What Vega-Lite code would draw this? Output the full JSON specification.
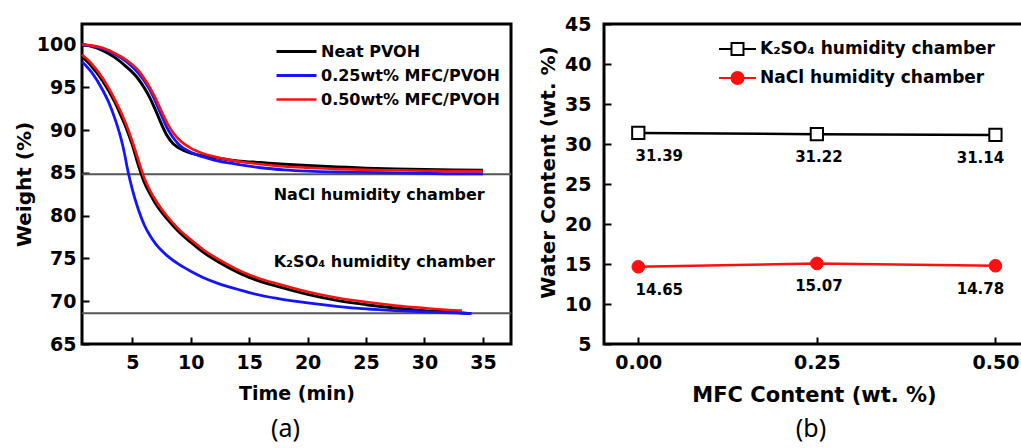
{
  "$schema": "https://vega.github.io/schema/vega-lite/v6.json",
  "padding": {"left": 12, "top": 13, "right": 0, "bottom": 0},
  "background": "white",
  "bounds": "flush",
  "spacing": 93,
  "config": {
    "view": {"stroke": "black", "strokeWidth": 3},
    "font": "DejaVu Sans",
    "axis": {
      "labelFont": "DejaVu Sans", "labelFontWeight": "bold", "labelColor": "black",
      "titleFont": "DejaVu Sans", "titleFontWeight": "bold", "titleColor": "black",
      "domain": false, "grid": false, "tickColor": "black", "tickWidth": 2
    },
    "legend": {"labelFont": "DejaVu Sans", "labelFontWeight": "bold", "labelColor": "black", "padding": 0, "labelLimit": 400}
  },
  "datasets": {
    "curves": [
      {"t":0.7,"w":100.0,"s":"Neat PVOH","c":"NaCl"},{"t":1.5,"w":99.8,"s":"Neat PVOH","c":"NaCl"},{"t":2.5,"w":99.3,"s":"Neat PVOH","c":"NaCl"},{"t":3.5,"w":98.5,"s":"Neat PVOH","c":"NaCl"},{"t":4.5,"w":97.4,"s":"Neat PVOH","c":"NaCl"},{"t":5.5,"w":96.0,"s":"Neat PVOH","c":"NaCl"},{"t":6.0,"w":95.0,"s":"Neat PVOH","c":"NaCl"},{"t":6.5,"w":93.8,"s":"Neat PVOH","c":"NaCl"},{"t":7.0,"w":92.3,"s":"Neat PVOH","c":"NaCl"},{"t":7.5,"w":90.7,"s":"Neat PVOH","c":"NaCl"},{"t":8.0,"w":89.3,"s":"Neat PVOH","c":"NaCl"},{"t":8.5,"w":88.4,"s":"Neat PVOH","c":"NaCl"},{"t":9.0,"w":87.9,"s":"Neat PVOH","c":"NaCl"},{"t":10,"w":87.3,"s":"Neat PVOH","c":"NaCl"},{"t":11,"w":87.0,"s":"Neat PVOH","c":"NaCl"},{"t":12,"w":86.8,"s":"Neat PVOH","c":"NaCl"},{"t":14,"w":86.4,"s":"Neat PVOH","c":"NaCl"},{"t":16,"w":86.2,"s":"Neat PVOH","c":"NaCl"},{"t":18,"w":86.0,"s":"Neat PVOH","c":"NaCl"},{"t":20,"w":85.85,"s":"Neat PVOH","c":"NaCl"},{"t":22.5,"w":85.7,"s":"Neat PVOH","c":"NaCl"},{"t":25,"w":85.55,"s":"Neat PVOH","c":"NaCl"},{"t":27.5,"w":85.45,"s":"Neat PVOH","c":"NaCl"},{"t":30,"w":85.4,"s":"Neat PVOH","c":"NaCl"},{"t":32.5,"w":85.35,"s":"Neat PVOH","c":"NaCl"},{"t":35,"w":85.3,"s":"Neat PVOH","c":"NaCl"},
      {"t":0.7,"w":98.6,"s":"Neat PVOH","c":"K2SO4"},{"t":1.5,"w":97.5,"s":"Neat PVOH","c":"K2SO4"},{"t":2.5,"w":95.7,"s":"Neat PVOH","c":"K2SO4"},{"t":3.5,"w":93.3,"s":"Neat PVOH","c":"K2SO4"},{"t":4.0,"w":91.8,"s":"Neat PVOH","c":"K2SO4"},{"t":4.5,"w":90.2,"s":"Neat PVOH","c":"K2SO4"},{"t":5.0,"w":88.3,"s":"Neat PVOH","c":"K2SO4"},{"t":5.5,"w":86.0,"s":"Neat PVOH","c":"K2SO4"},{"t":6.0,"w":84.0,"s":"Neat PVOH","c":"K2SO4"},{"t":6.5,"w":82.6,"s":"Neat PVOH","c":"K2SO4"},{"t":7.0,"w":81.4,"s":"Neat PVOH","c":"K2SO4"},{"t":8.0,"w":79.6,"s":"Neat PVOH","c":"K2SO4"},{"t":9.0,"w":78.1,"s":"Neat PVOH","c":"K2SO4"},{"t":10,"w":76.9,"s":"Neat PVOH","c":"K2SO4"},{"t":11,"w":75.8,"s":"Neat PVOH","c":"K2SO4"},{"t":12.5,"w":74.5,"s":"Neat PVOH","c":"K2SO4"},{"t":14,"w":73.4,"s":"Neat PVOH","c":"K2SO4"},{"t":15,"w":72.8,"s":"Neat PVOH","c":"K2SO4"},{"t":17.5,"w":71.7,"s":"Neat PVOH","c":"K2SO4"},{"t":20,"w":70.8,"s":"Neat PVOH","c":"K2SO4"},{"t":22.5,"w":70.1,"s":"Neat PVOH","c":"K2SO4"},{"t":25,"w":69.6,"s":"Neat PVOH","c":"K2SO4"},{"t":27.5,"w":69.2,"s":"Neat PVOH","c":"K2SO4"},{"t":30,"w":68.9,"s":"Neat PVOH","c":"K2SO4"},{"t":32.5,"w":68.7,"s":"Neat PVOH","c":"K2SO4"},{"t":34,"w":68.55,"s":"Neat PVOH","c":"K2SO4"},
      {"t":0.7,"w":100.0,"s":"0.25wt% MFC/PVOH","c":"NaCl"},{"t":1.5,"w":99.85,"s":"0.25wt% MFC/PVOH","c":"NaCl"},{"t":2.5,"w":99.5,"s":"0.25wt% MFC/PVOH","c":"NaCl"},{"t":3.5,"w":98.9,"s":"0.25wt% MFC/PVOH","c":"NaCl"},{"t":4.5,"w":98.0,"s":"0.25wt% MFC/PVOH","c":"NaCl"},{"t":5.5,"w":96.7,"s":"0.25wt% MFC/PVOH","c":"NaCl"},{"t":6.0,"w":95.8,"s":"0.25wt% MFC/PVOH","c":"NaCl"},{"t":6.5,"w":94.7,"s":"0.25wt% MFC/PVOH","c":"NaCl"},{"t":7.0,"w":93.3,"s":"0.25wt% MFC/PVOH","c":"NaCl"},{"t":7.5,"w":91.7,"s":"0.25wt% MFC/PVOH","c":"NaCl"},{"t":8.0,"w":90.2,"s":"0.25wt% MFC/PVOH","c":"NaCl"},{"t":8.5,"w":89.1,"s":"0.25wt% MFC/PVOH","c":"NaCl"},{"t":9.0,"w":88.3,"s":"0.25wt% MFC/PVOH","c":"NaCl"},{"t":10,"w":87.4,"s":"0.25wt% MFC/PVOH","c":"NaCl"},{"t":11,"w":86.9,"s":"0.25wt% MFC/PVOH","c":"NaCl"},{"t":12,"w":86.5,"s":"0.25wt% MFC/PVOH","c":"NaCl"},{"t":14,"w":86.0,"s":"0.25wt% MFC/PVOH","c":"NaCl"},{"t":16,"w":85.6,"s":"0.25wt% MFC/PVOH","c":"NaCl"},{"t":18,"w":85.35,"s":"0.25wt% MFC/PVOH","c":"NaCl"},{"t":20,"w":85.2,"s":"0.25wt% MFC/PVOH","c":"NaCl"},{"t":22.5,"w":85.1,"s":"0.25wt% MFC/PVOH","c":"NaCl"},{"t":25,"w":85.05,"s":"0.25wt% MFC/PVOH","c":"NaCl"},{"t":27.5,"w":85.0,"s":"0.25wt% MFC/PVOH","c":"NaCl"},{"t":30,"w":84.95,"s":"0.25wt% MFC/PVOH","c":"NaCl"},{"t":32.5,"w":84.9,"s":"0.25wt% MFC/PVOH","c":"NaCl"},{"t":35,"w":84.9,"s":"0.25wt% MFC/PVOH","c":"NaCl"},
      {"t":0.7,"w":98.0,"s":"0.25wt% MFC/PVOH","c":"K2SO4"},{"t":1.5,"w":96.8,"s":"0.25wt% MFC/PVOH","c":"K2SO4"},{"t":2.5,"w":94.6,"s":"0.25wt% MFC/PVOH","c":"K2SO4"},{"t":3.0,"w":93.2,"s":"0.25wt% MFC/PVOH","c":"K2SO4"},{"t":3.5,"w":91.4,"s":"0.25wt% MFC/PVOH","c":"K2SO4"},{"t":4.0,"w":89.2,"s":"0.25wt% MFC/PVOH","c":"K2SO4"},{"t":4.3,"w":87.5,"s":"0.25wt% MFC/PVOH","c":"K2SO4"},{"t":4.6,"w":85.4,"s":"0.25wt% MFC/PVOH","c":"K2SO4"},{"t":5.0,"w":83.1,"s":"0.25wt% MFC/PVOH","c":"K2SO4"},{"t":5.5,"w":80.8,"s":"0.25wt% MFC/PVOH","c":"K2SO4"},{"t":6.0,"w":79.0,"s":"0.25wt% MFC/PVOH","c":"K2SO4"},{"t":6.5,"w":77.7,"s":"0.25wt% MFC/PVOH","c":"K2SO4"},{"t":7.0,"w":76.7,"s":"0.25wt% MFC/PVOH","c":"K2SO4"},{"t":8.0,"w":75.3,"s":"0.25wt% MFC/PVOH","c":"K2SO4"},{"t":9.0,"w":74.3,"s":"0.25wt% MFC/PVOH","c":"K2SO4"},{"t":10,"w":73.5,"s":"0.25wt% MFC/PVOH","c":"K2SO4"},{"t":11,"w":72.8,"s":"0.25wt% MFC/PVOH","c":"K2SO4"},{"t":12.5,"w":72.0,"s":"0.25wt% MFC/PVOH","c":"K2SO4"},{"t":14,"w":71.4,"s":"0.25wt% MFC/PVOH","c":"K2SO4"},{"t":15,"w":71.0,"s":"0.25wt% MFC/PVOH","c":"K2SO4"},{"t":17.5,"w":70.3,"s":"0.25wt% MFC/PVOH","c":"K2SO4"},{"t":20,"w":69.8,"s":"0.25wt% MFC/PVOH","c":"K2SO4"},{"t":22.5,"w":69.4,"s":"0.25wt% MFC/PVOH","c":"K2SO4"},{"t":25,"w":69.1,"s":"0.25wt% MFC/PVOH","c":"K2SO4"},{"t":27.5,"w":68.9,"s":"0.25wt% MFC/PVOH","c":"K2SO4"},{"t":30,"w":68.75,"s":"0.25wt% MFC/PVOH","c":"K2SO4"},{"t":32.5,"w":68.65,"s":"0.25wt% MFC/PVOH","c":"K2SO4"},{"t":34,"w":68.55,"s":"0.25wt% MFC/PVOH","c":"K2SO4"},
      {"t":0.7,"w":100.0,"s":"0.50wt% MFC/PVOH","c":"NaCl"},{"t":1.5,"w":99.9,"s":"0.50wt% MFC/PVOH","c":"NaCl"},{"t":2.5,"w":99.6,"s":"0.50wt% MFC/PVOH","c":"NaCl"},{"t":3.5,"w":99.0,"s":"0.50wt% MFC/PVOH","c":"NaCl"},{"t":4.5,"w":98.2,"s":"0.50wt% MFC/PVOH","c":"NaCl"},{"t":5.5,"w":97.0,"s":"0.50wt% MFC/PVOH","c":"NaCl"},{"t":6.0,"w":96.1,"s":"0.50wt% MFC/PVOH","c":"NaCl"},{"t":6.5,"w":95.0,"s":"0.50wt% MFC/PVOH","c":"NaCl"},{"t":7.0,"w":93.7,"s":"0.50wt% MFC/PVOH","c":"NaCl"},{"t":7.5,"w":92.2,"s":"0.50wt% MFC/PVOH","c":"NaCl"},{"t":8.0,"w":90.8,"s":"0.50wt% MFC/PVOH","c":"NaCl"},{"t":8.5,"w":89.7,"s":"0.50wt% MFC/PVOH","c":"NaCl"},{"t":9.0,"w":88.9,"s":"0.50wt% MFC/PVOH","c":"NaCl"},{"t":10,"w":87.9,"s":"0.50wt% MFC/PVOH","c":"NaCl"},{"t":11,"w":87.3,"s":"0.50wt% MFC/PVOH","c":"NaCl"},{"t":12,"w":86.9,"s":"0.50wt% MFC/PVOH","c":"NaCl"},{"t":14,"w":86.35,"s":"0.50wt% MFC/PVOH","c":"NaCl"},{"t":16,"w":86.0,"s":"0.50wt% MFC/PVOH","c":"NaCl"},{"t":18,"w":85.75,"s":"0.50wt% MFC/PVOH","c":"NaCl"},{"t":20,"w":85.6,"s":"0.50wt% MFC/PVOH","c":"NaCl"},{"t":22.5,"w":85.45,"s":"0.50wt% MFC/PVOH","c":"NaCl"},{"t":25,"w":85.35,"s":"0.50wt% MFC/PVOH","c":"NaCl"},{"t":27.5,"w":85.3,"s":"0.50wt% MFC/PVOH","c":"NaCl"},{"t":30,"w":85.25,"s":"0.50wt% MFC/PVOH","c":"NaCl"},{"t":32.5,"w":85.2,"s":"0.50wt% MFC/PVOH","c":"NaCl"},{"t":35,"w":85.2,"s":"0.50wt% MFC/PVOH","c":"NaCl"},
      {"t":0.7,"w":98.8,"s":"0.50wt% MFC/PVOH","c":"K2SO4"},{"t":1.5,"w":97.8,"s":"0.50wt% MFC/PVOH","c":"K2SO4"},{"t":2.5,"w":96.0,"s":"0.50wt% MFC/PVOH","c":"K2SO4"},{"t":3.5,"w":93.6,"s":"0.50wt% MFC/PVOH","c":"K2SO4"},{"t":4.0,"w":92.2,"s":"0.50wt% MFC/PVOH","c":"K2SO4"},{"t":4.5,"w":90.6,"s":"0.50wt% MFC/PVOH","c":"K2SO4"},{"t":5.0,"w":88.7,"s":"0.50wt% MFC/PVOH","c":"K2SO4"},{"t":5.5,"w":86.6,"s":"0.50wt% MFC/PVOH","c":"K2SO4"},{"t":6.0,"w":84.5,"s":"0.50wt% MFC/PVOH","c":"K2SO4"},{"t":6.5,"w":83.0,"s":"0.50wt% MFC/PVOH","c":"K2SO4"},{"t":7.0,"w":81.8,"s":"0.50wt% MFC/PVOH","c":"K2SO4"},{"t":8.0,"w":79.9,"s":"0.50wt% MFC/PVOH","c":"K2SO4"},{"t":9.0,"w":78.4,"s":"0.50wt% MFC/PVOH","c":"K2SO4"},{"t":10,"w":77.2,"s":"0.50wt% MFC/PVOH","c":"K2SO4"},{"t":11,"w":76.1,"s":"0.50wt% MFC/PVOH","c":"K2SO4"},{"t":12.5,"w":74.8,"s":"0.50wt% MFC/PVOH","c":"K2SO4"},{"t":14,"w":73.7,"s":"0.50wt% MFC/PVOH","c":"K2SO4"},{"t":15,"w":73.1,"s":"0.50wt% MFC/PVOH","c":"K2SO4"},{"t":17.5,"w":72.0,"s":"0.50wt% MFC/PVOH","c":"K2SO4"},{"t":20,"w":71.1,"s":"0.50wt% MFC/PVOH","c":"K2SO4"},{"t":22.5,"w":70.4,"s":"0.50wt% MFC/PVOH","c":"K2SO4"},{"t":25,"w":69.9,"s":"0.50wt% MFC/PVOH","c":"K2SO4"},{"t":27.5,"w":69.5,"s":"0.50wt% MFC/PVOH","c":"K2SO4"},{"t":30,"w":69.2,"s":"0.50wt% MFC/PVOH","c":"K2SO4"},{"t":32.5,"w":68.95,"s":"0.50wt% MFC/PVOH","c":"K2SO4"},{"t":33.2,"w":68.9,"s":"0.50wt% MFC/PVOH","c":"K2SO4"}
    ],
    "hlines": [{"level": 84.85}, {"level": 68.6}],
    "notes": [
      {"x": 17.1, "y": 82.4, "label": "NaCl humidity chamber"},
      {"x": 17.1, "y": 74.6, "label": "K₂SO₄ humidity chamber"}
    ],
    "wc": [
      {"mfc": 0.0, "wc": 31.39, "chamber": "K₂SO₄ humidity chamber"},
      {"mfc": 0.25, "wc": 31.22, "chamber": "K₂SO₄ humidity chamber"},
      {"mfc": 0.5, "wc": 31.14, "chamber": "K₂SO₄ humidity chamber"},
      {"mfc": 0.0, "wc": 14.65, "chamber": "NaCl humidity chamber"},
      {"mfc": 0.25, "wc": 15.07, "chamber": "NaCl humidity chamber"},
      {"mfc": 0.5, "wc": 14.78, "chamber": "NaCl humidity chamber"}
    ]
  },
  "resolve": {
    "scale": {"color": "independent", "stroke": "independent", "strokeWidth": "independent"},
    "legend": {"color": "independent", "stroke": "independent", "strokeWidth": "independent"}
  },
  "hconcat": [
    {
      "width": 429, "height": 320,
      "title": {"text": "(a)", "orient": "bottom", "anchor": "middle", "font": "Noto Sans", "fontSize": 25, "fontWeight": "normal", "color": "black", "offset": 14, "dx": -11},
      "layer": [
        {
          "data": {"name": "hlines"},
          "mark": {"type": "rule", "color": "#555555", "strokeWidth": 2},
          "encoding": {
            "y": {"field": "level", "type": "quantitative",
              "scale": {"domain": [65, 102.4], "nice": false, "zero": false},
              "axis": {
                "title": "Weight (%)", "titleFontSize": 20, "titlePadding": 2,
                "values": [65, 67.5, 70, 72.5, 75, 77.5, 80, 82.5, 85, 87.5, 90, 92.5, 95, 97.5, 100],
                "labelExpr": "datum.value % 5 === 0 ? datum.label : ''",
                "tickSize": {"condition": {"test": "datum.value % 5 === 0", "value": -7}, "value": -4},
                "labelFontSize": 19, "labelPadding": 13
              }
            }
          }
        },
        {
          "data": {"name": "curves"},
          "mark": {"type": "line", "interpolate": "monotone"},
          "encoding": {
            "x": {"field": "t", "type": "quantitative",
              "scale": {"domain": [0.7, 37.4], "nice": false, "zero": false},
              "axis": {
                "title": "Time (min)", "titleFontSize": 19, "titlePadding": 12,
                "values": [5, 10, 15, 20, 25, 30, 35], "format": "d",
                "tickSize": -7, "labelFontSize": 19, "labelPadding": 16
              }
            },
            "y": {"field": "w", "type": "quantitative", "scale": {"domain": [65, 102.4], "nice": false, "zero": false}},
            "color": {"field": "s", "type": "nominal",
              "scale": {"domain": ["Neat PVOH", "0.25wt% MFC/PVOH", "0.50wt% MFC/PVOH"], "range": ["#000000", "#1414ff", "#ff1010"]},
              "legend": {"title": null, "orient": "none", "legendX": 203, "legendY": 16,
                "symbolType": "M-2,0H2", "symbolSize": 400, "symbolStrokeWidth": 3.5,
                "labelOffset": 13, "rowPadding": 4, "labelFontSize": 16}
            },
            "strokeWidth": {"field": "s", "type": "nominal",
              "scale": {"domain": ["Neat PVOH", "0.25wt% MFC/PVOH", "0.50wt% MFC/PVOH"], "range": [3, 2.6, 3.8]},
              "legend": null},
            "detail": {"field": "c"}
          }
        },
        {
          "data": {"name": "notes"},
          "mark": {"type": "text", "align": "left", "baseline": "middle", "font": "DejaVu Sans", "fontWeight": "bold", "fontSize": 16, "color": "black"},
          "encoding": {
            "x": {"field": "x", "type": "quantitative"},
            "y": {"field": "y", "type": "quantitative"},
            "text": {"field": "label"}
          }
        }
      ]
    },
    {
      "width": 420, "height": 320,
      "title": {"text": "(b)", "orient": "bottom", "anchor": "middle", "font": "Noto Sans", "fontSize": 25, "fontWeight": "normal", "color": "black", "offset": 12, "dx": -3},
      "data": {"name": "wc"},
      "encoding": {
        "x": {"field": "mfc", "type": "quantitative",
          "scale": {"domain": [-0.048, 0.54], "nice": false, "zero": false},
          "axis": {"title": "MFC Content (wt. %)", "titleFontSize": 21, "titlePadding": 12,
            "values": [0, 0.25, 0.5], "format": ".2f", "tickSize": -7, "labelFontSize": 19, "labelPadding": 16}
        },
        "y": {"field": "wc", "type": "quantitative",
          "scale": {"domain": [5, 45], "nice": false, "zero": false},
          "axis": {"title": "Water Content (wt. %)", "titleFontSize": 20, "titlePadding": 6, "titleY": 148,
            "values": [5, 10, 15, 20, 25, 30, 35, 40, 45], "tickSize": -7, "labelFontSize": 19, "labelPadding": 20}
        }
      },
      "layer": [
        {
          "mark": {"type": "line", "strokeWidth": 2.5},
          "encoding": {
            "stroke": {"field": "chamber", "type": "nominal",
              "scale": {"domain": ["K₂SO₄ humidity chamber", "NaCl humidity chamber"], "range": ["#000000", "#ff1010"]},
              "legend": {"title": null, "orient": "none", "legendX": 122.5, "legendY": 14,
                "symbolSize": 400, "symbolStrokeWidth": 2, "labelOffset": 11.5, "rowPadding": 8, "labelFontSize": 17,
                "encode": {"symbols": {"update": {
                  "shape": {"signal": "datum.value === 'NaCl humidity chamber' ? 'M-1.85,0H-0.6M0.6,0H1.85M0.6,0A0.6,0.6,0,1,1,-0.6,0A0.6,0.6,0,1,1,0.6,0Z' : 'M-1.85,0H-0.6M0.6,0H1.85M-0.6,-0.6H0.6V0.6H-0.6Z'"},
                  "fill": {"signal": "datum.value === 'NaCl humidity chamber' ? '#ff1010' : '#ffffff'"},
                  "fillOpacity": {"value": 1}
                }}}
              }
            }
          }
        },
        {
          "transform": [{"filter": "datum.chamber === 'K₂SO₄ humidity chamber'"}],
          "mark": {"type": "point", "shape": "square", "filled": true, "fill": "#ffffff", "stroke": "#000000", "strokeWidth": 2, "size": 150, "opacity": 1}
        },
        {
          "transform": [{"filter": "datum.chamber === 'NaCl humidity chamber'"}],
          "mark": {"type": "point", "shape": "circle", "filled": true, "fill": "#ff1010", "stroke": "#ff1010", "strokeWidth": 1, "size": 160, "opacity": 1}
        },
        {
          "mark": {"type": "text", "font": "DejaVu Sans", "fontWeight": "bold", "fontSize": 15, "color": "black", "baseline": "middle", "dy": 23,
            "dx": {"expr": "datum.mfc == 0 ? 21 : (datum.mfc == 0.5 ? -15 : 2)"}},
          "encoding": {"text": {"field": "wc", "type": "quantitative", "format": ".2f"}}
        }
      ]
    }
  ]
}
